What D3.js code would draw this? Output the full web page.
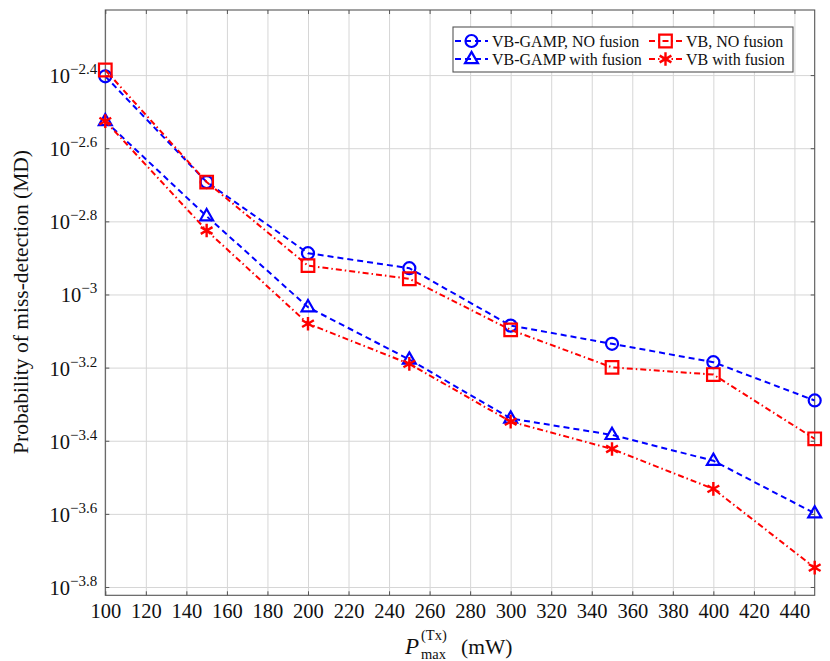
<!DOCTYPE html>
<html>
<head>
<meta charset="utf-8">
<script src="https://cdn.jsdelivr.net/npm/d3@7"></script>
<style>
  body { margin: 0; background: #fff; }
</style>
</head>
<body>
<svg width="830" height="661"></svg>
<script>
// data
const power = [100, 150, 200, 250, 300, 350, 400, 450];
const gampNoFusion = [3.95e-3, 2.03e-3, 1.297e-3, 1.18e-3, 8.22e-4, 7.33e-4, 6.53e-4, 5.13e-4];
const vbNoFusion = [4.11e-3, 2.03e-3, 1.199e-3, 1.104e-3, 8.0e-4, 6.32e-4, 6.04e-4, 4.03e-4];
const gampFusion = [2.98e-3, 1.637e-3, 9.23e-4, 6.64e-4, 4.58e-4, 4.13e-4, 3.51e-4, 2.52e-4];
const vbFusion = [2.98e-3, 1.496e-3, 8.32e-4, 6.46e-4, 4.49e-4, 3.78e-4, 2.94e-4, 1.79e-4];

const xTicks = [100, 120, 140, 160, 180, 200, 220, 240, 260, 280, 300, 320, 340, 360, 380, 400, 420, 440];
const yTickExps = ['-2.4', '-2.6', '-2.8', '-3', '-3.2', '-3.4', '-3.6', '-3.8'];

const seriesNames = ['VB-GAMP, NO fusion', 'VB, NO fusion', 'VB-GAMP with fusion', 'VB with fusion'];
const seriesValues = [gampNoFusion, vbNoFusion, gampFusion, vbFusion];
const seriesColors = ['#0000ff', '#ff0000', '#0000ff', '#ff0000'];
const seriesDash = ['6,4', '6,3,1.5,3', '6,4', '6,3,1.5,3'];
const seriesMarks = ['circle', 'square', 'triangle', 'star'];

const serif = "'Liberation Serif', 'DejaVu Serif', serif";

const svg = d3.select('svg');
const width = +svg.attr('width');
const height = +svg.attr('height');
const margin = { top: 10, right: 15.3, bottom: 65.7, left: 105.3 };
const innerWidth = width - margin.left - margin.right;
const innerHeight = height - margin.top - margin.bottom;

const xScale = d3.scaleLinear().domain([100, 450]).range([0, innerWidth]);
const yScale = d3.scaleLog()
  .domain([Math.pow(10, -3.8227), Math.pow(10, -2.222)])
  .range([innerHeight, 0]);
const yTickVals = yTickExps.map(e => Math.pow(10, +e));

const g = svg.append('g').attr('transform', `translate(${margin.left},${margin.top})`);

// grid
const gridStyle = sel => {
  sel.select('.domain').remove();
  sel.selectAll('line').attr('stroke', '#d6d6d6');
};
g.append('g').attr('transform', `translate(0,${innerHeight})`)
  .call(d3.axisBottom(xScale).tickValues(xTicks).tickSize(-innerHeight).tickFormat(''))
  .call(gridStyle);
g.append('g')
  .call(d3.axisLeft(yScale).tickValues(yTickVals).tickSize(-innerWidth).tickFormat(''))
  .call(gridStyle);

// frame
g.append('rect').attr('width', innerWidth).attr('height', innerHeight)
  .attr('fill', 'none').attr('stroke', '#555').attr('stroke-width', 1.1);

// inward ticks on top and right
g.append('g').call(d3.axisTop(xScale).tickValues(xTicks).tickSize(-4).tickFormat(''))
  .call(s => s.select('.domain').remove())
  .call(s => s.selectAll('line').attr('stroke', '#555'));
g.append('g').attr('transform', `translate(${innerWidth},0)`)
  .call(d3.axisRight(yScale).tickValues(yTickVals).tickSize(-4).tickFormat(''))
  .call(s => s.select('.domain').remove())
  .call(s => s.selectAll('line').attr('stroke', '#555'));

// bottom axis with labels
const xAxisG = g.append('g').attr('transform', `translate(0,${innerHeight})`)
  .call(d3.axisBottom(xScale).tickValues(xTicks).tickSize(-4).tickPadding(8).tickFormat(d3.format('d')));
xAxisG.select('.domain').remove();
xAxisG.selectAll('line').attr('stroke', '#555');
xAxisG.attr('font-family', serif).attr('font-size', 20.5);
xAxisG.selectAll('text').attr('fill', '#111');

// left axis with 10^x labels
const yAxisG = g.append('g')
  .call(d3.axisLeft(yScale).tickValues(yTickVals).tickSize(-4).tickPadding(8).tickFormat(''));
yAxisG.select('.domain').remove();
yAxisG.selectAll('line').attr('stroke', '#555');
yAxisG.attr('font-family', serif).attr('font-size', 20.5);
yAxisG.selectAll('text')
  .attr('fill', '#111').attr('dy', null).attr('y', 7.5)
  .each(function (d, i) {
    const t = d3.select(this);
    t.append('tspan').text('10');
    t.append('tspan').attr('dy', -9).attr('font-size', 15).text(yTickExps[i].replace('-', '\u2212'));
  });

// axis labels
const labels = svg.append('g').attr('font-family', serif).attr('fill', '#111');
labels.append('text')
  .attr('transform', 'translate(28,302) rotate(-90)')
  .attr('text-anchor', 'middle').attr('font-size', 21.5)
  .text('Probability of miss-detection (MD)');
labels.append('text').attr('x', 405).attr('y', 654).attr('font-size', 23).attr('font-style', 'italic').text('P');
labels.append('text').attr('x', 421).attr('y', 659).attr('font-size', 14.5).text('max');
labels.append('text').attr('x', 421).attr('y', 640).attr('font-size', 14.5).text('(Tx)');
labels.append('text').attr('x', 461).attr('y', 654).attr('font-size', 21.5).text('(mW)');

// markers
const markPath = (type, s) => {
  if (type === 'square') return `M${-s},${-s}H${s}V${s}H${-s}Z`;
  if (type === 'triangle') return `M0,${-s * 1.05}L${s * 0.95},${s * 0.6}L${-s * 0.95},${s * 0.6}Z`;
  let p = '';
  for (let i = 0; i < 3; i++) {
    const a = Math.PI / 2 + i * Math.PI / 3;
    p += `M${Math.cos(a) * s},${Math.sin(a) * s}L${-Math.cos(a) * s},${-Math.sin(a) * s}`;
  }
  return p;
};
const drawMark = (sel, type, color, x, y) => {
  if (type === 'circle') {
    sel.append('circle').attr('cx', x).attr('cy', y).attr('r', 6)
      .attr('fill', 'none').attr('stroke', color).attr('stroke-width', 2.2);
  } else {
    const s = type === 'square' ? 6.3 : 6.8;
    sel.append('path').attr('transform', `translate(${x},${y})`)
      .attr('d', markPath(type, s))
      .attr('fill', 'none').attr('stroke', color).attr('stroke-width', type === 'star' ? 2.4 : 2.2);
  }
};

const line = d3.line().x((d, i) => xScale(power[i])).y(d => yScale(d));
seriesValues.forEach((vals, k) => {
  const sg = g.append('g');
  sg.append('path').datum(vals).attr('d', line)
    .attr('fill', 'none').attr('stroke', seriesColors[k]).attr('stroke-width', 2)
    .attr('stroke-dasharray', seriesDash[k]);
  vals.forEach((v, i) => drawMark(sg, seriesMarks[k], seriesColors[k], xScale(power[i]), yScale(v)));
});

// legend
const lg = svg.append('g').attr('font-family', serif).attr('fill', '#111');
lg.append('rect').attr('x', 453).attr('y', 27).attr('width', 340).attr('height', 45)
  .attr('fill', '#fff').attr('stroke', '#555').attr('stroke-width', 1.1);
const legendPos = [[455, 41], [649, 41], [455, 59], [649, 59]];
seriesNames.forEach((name, k) => {
  const [lx, ly] = legendPos[k];
  lg.append('line').attr('x1', lx).attr('x2', lx + 33).attr('y1', ly).attr('y2', ly)
    .attr('stroke', seriesColors[k]).attr('stroke-width', 2).attr('stroke-dasharray', seriesDash[k]);
  drawMark(lg, seriesMarks[k], seriesColors[k], lx + 16.5, ly);
  lg.append('text').attr('x', lx + 37).attr('y', ly + 5.5).attr('font-size', 16).text(name);
});
</script>
</body>
</html>
